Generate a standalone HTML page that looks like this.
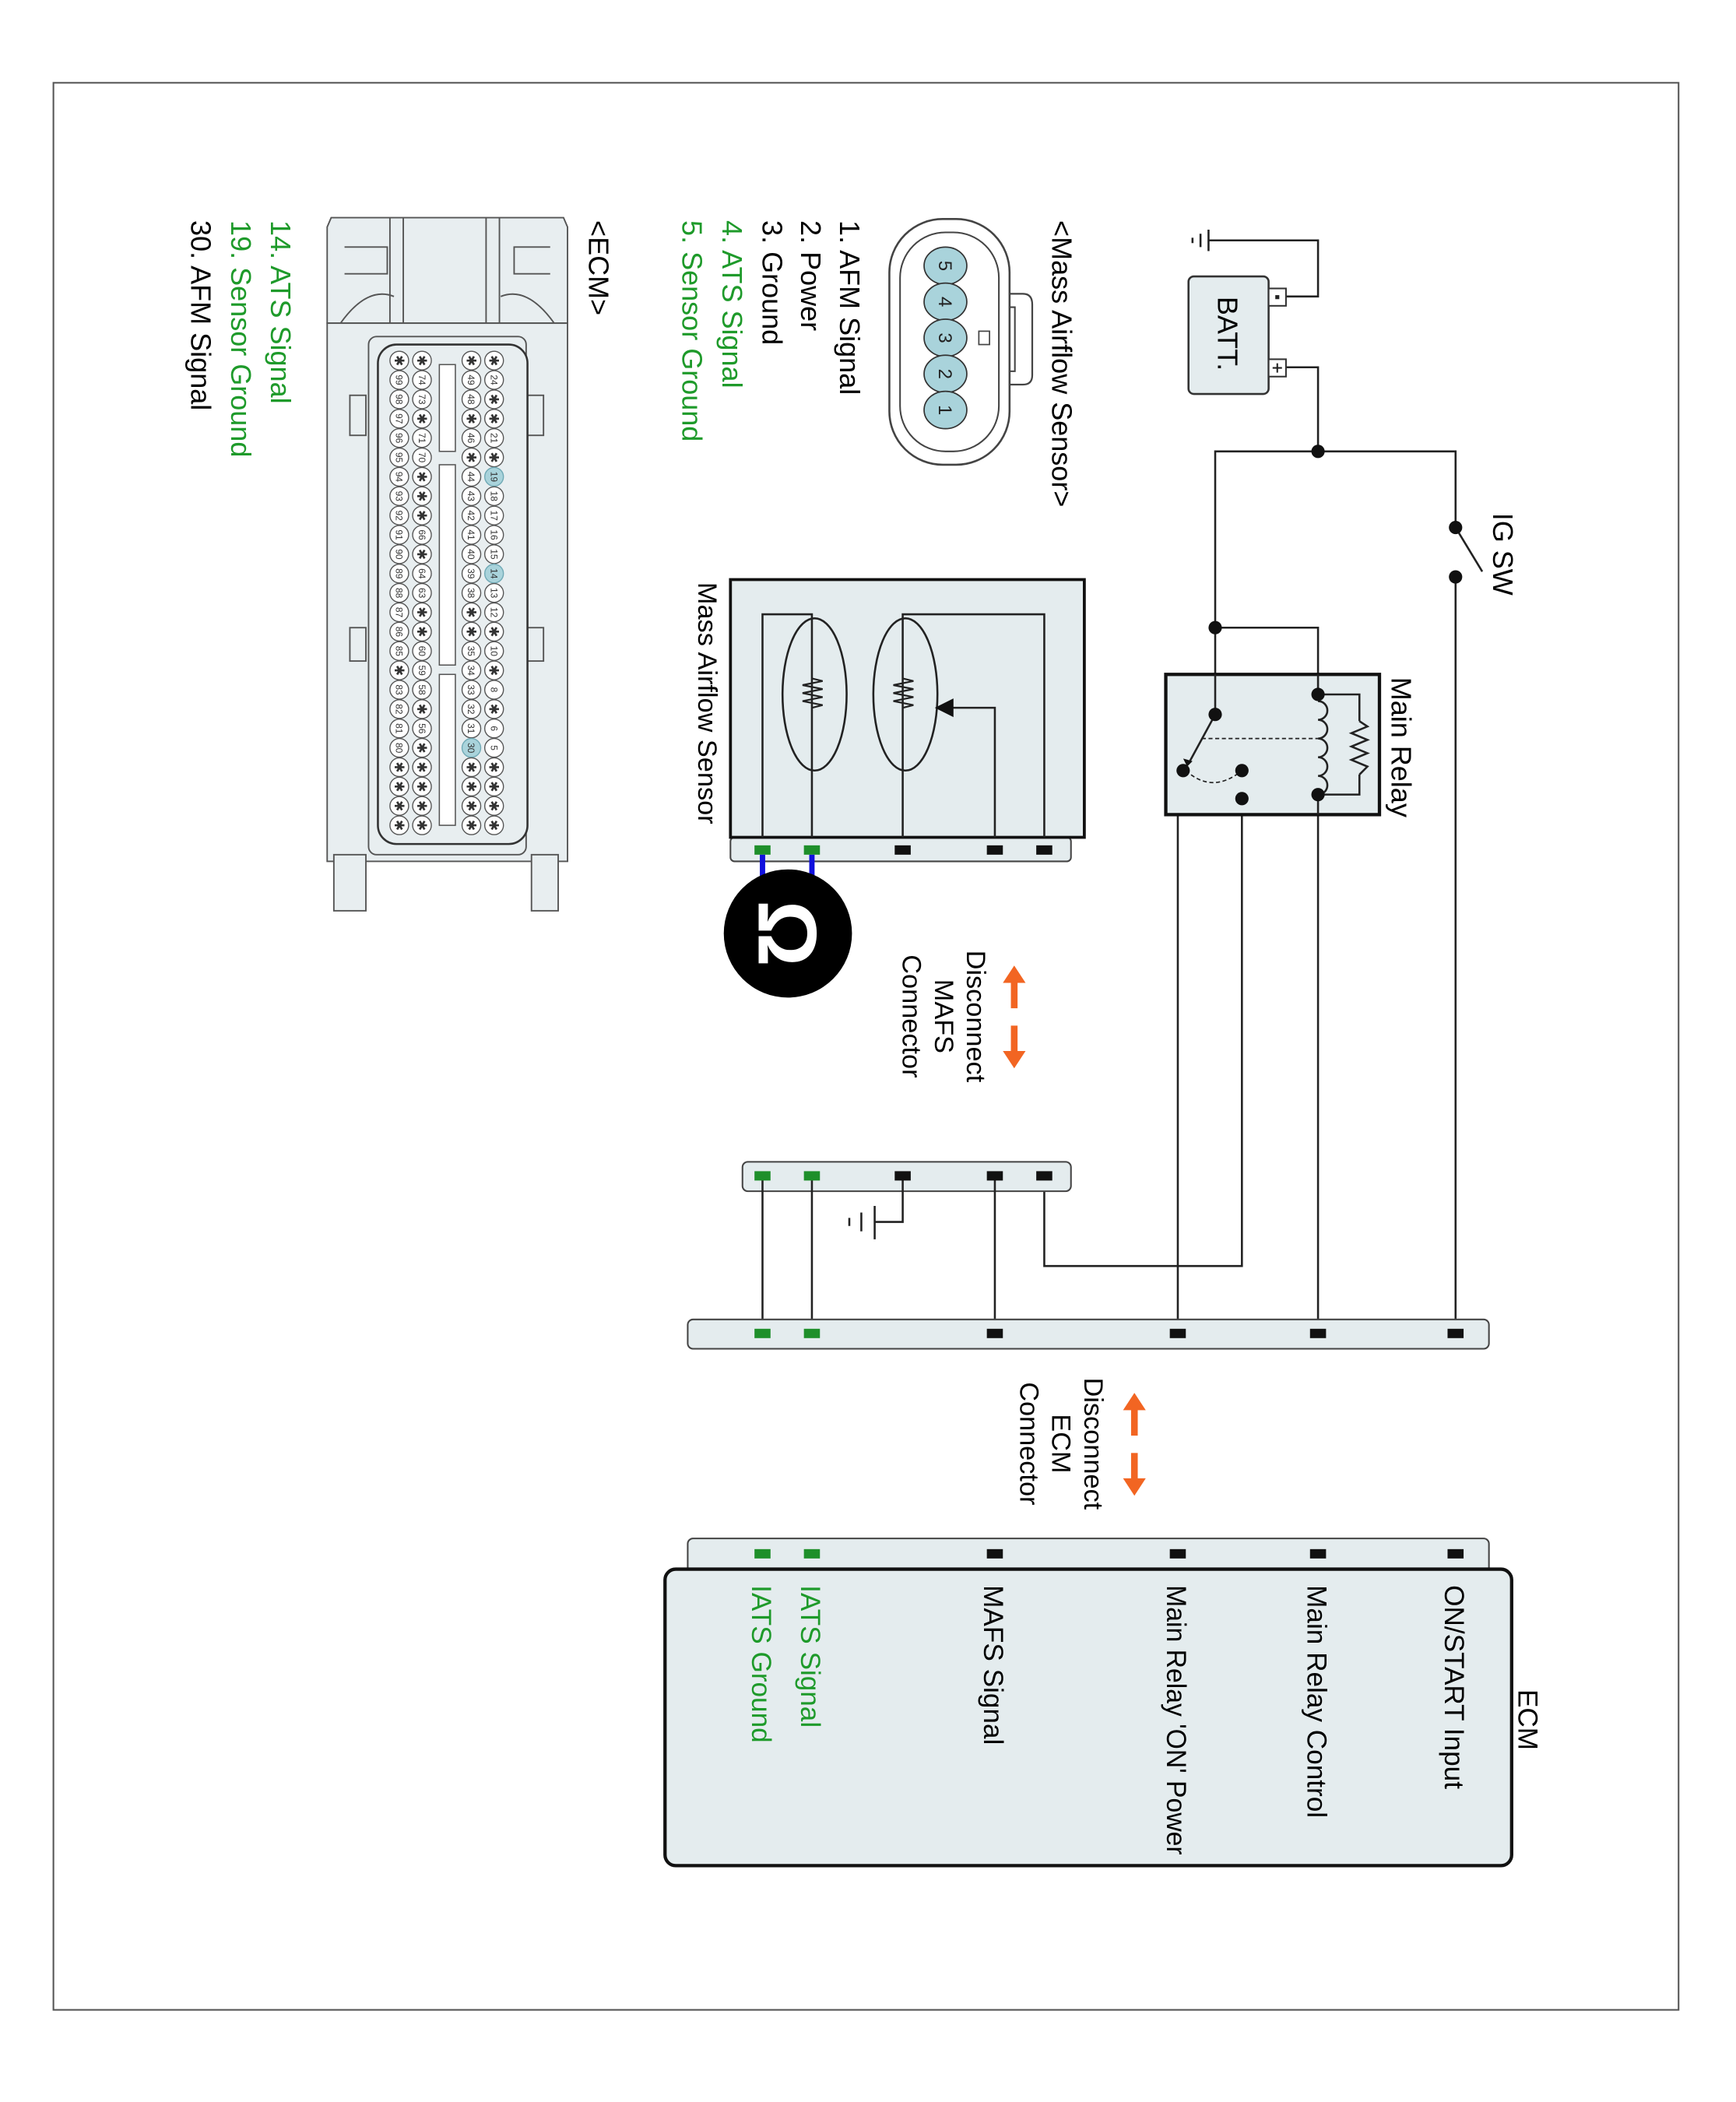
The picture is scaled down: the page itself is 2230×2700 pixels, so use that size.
<!DOCTYPE html>
<html><head><meta charset="utf-8"><style>
html,body{margin:0;padding:0;background:#fff}
svg{display:block}
text{font-family:"Liberation Sans",Arial,sans-serif}
.p circle{fill:#fff;stroke:#555;stroke-width:0.8}
.p text{font-size:7px;text-anchor:middle;fill:#333}
.p text.s{font-family:"DejaVu Sans",sans-serif;font-size:10px}
.p .h{fill:#a9d3db;stroke:#6fa9b5}
</style></head><body>
<svg width="2230" height="2700" viewBox="0 0 1300 1574" preserveAspectRatio="none" xmlns="http://www.w3.org/2000/svg">
<rect x="0" y="0" width="1300" height="1574" fill="#fff"/>
<rect x="40" y="62" width="1217" height="1443" fill="none" stroke="#555" stroke-width="1.2"/>

<g stroke="#222" stroke-width="1.5" fill="none">
<path d="M962,222 H987 V180 H905"/>
<path d="M905,172 V188 M899,175 V185 M893,178 V182"/>
<path d="M962,275 H987 V338 H1090 V395"/>
<path d="M1090,432 V998"/>
<path d="M1090,395 L1110,428" stroke-width="1.5"/>
<path d="M987,338 H910 V535"/>
<path d="M910,470 H987 V998"/>
<path d="M930,577 V948 H782 V881"/>
<path d="M930,598 H882 V998"/>
</g>
<rect x="890" y="207" width="60" height="88" rx="4" fill="#e4ecee" stroke="#333" stroke-width="1.5"/>
<rect x="950" y="216" width="13" height="13" fill="#fff" stroke="#333" stroke-width="1.2"/>
<rect x="950" y="269" width="13" height="13" fill="#fff" stroke="#333" stroke-width="1.2"/>
<path d="M953,275.5 H960 M956.5,272 V279" stroke="#222" stroke-width="1.2"/>
<rect x="955" y="221" width="3" height="3" fill="#222"/>
<text transform="translate(912,222) rotate(90)" font-size="21">BATT.</text>
<text transform="translate(1118,384) rotate(90)" font-size="21">IG SW</text>
<circle cx="1090" cy="395" r="5" fill="#111"/>
<circle cx="1090" cy="432" r="5" fill="#111"/>
<circle cx="987" cy="338" r="5" fill="#111"/>
<circle cx="910" cy="470" r="5" fill="#111"/>

<rect x="873" y="505" width="160" height="105" fill="#e4ecee" stroke="#111" stroke-width="2.5"/>
<g stroke="#222" stroke-width="1.5" fill="none">
<path d="M910,505 V535"/>
<path d="M987,505 V520 M987,595 V610"/>
<path d="M987,520 H1018 V540 M1018,580 V595 H987"/>
<path d="M1018,540 l6,4 l-12,5 l12,5 l-12,5 l12,5 l-12,5 l12,5 l-6,6"/>
<path d="M987,525 a7,7 0 0 1 0,14 a7,7 0 0 1 0,14 a7,7 0 0 1 0,14 a7,7 0 0 1 0,14 a7,7 0 0 1 0,14" />
<path d="M910,535 L891,570"/>
<path d="M900,553 H987" stroke-dasharray="3,2" stroke-width="1"/>
<path d="M888,577 Q908,595 930,577" stroke-dasharray="3,2" stroke-width="1"/>
</g>
<path d="M889,574 l-3,-6 l7,2 z" fill="#111"/>
<circle cx="910" cy="535" r="5" fill="#111"/>
<circle cx="987" cy="520" r="5" fill="#111"/>
<circle cx="987" cy="595" r="5" fill="#111"/>
<circle cx="886" cy="577" r="5" fill="#111"/>
<circle cx="930" cy="577" r="5" fill="#111"/>
<circle cx="930" cy="598" r="5" fill="#111"/>
<text transform="translate(1042,507) rotate(90)" font-size="21">Main Relay</text>

<rect x="547" y="627" width="255" height="18" rx="3" fill="#e4ecee" stroke="#444" stroke-width="1.2"/>
<rect x="547" y="434" width="265" height="193" fill="#e4ecee" stroke="#111" stroke-width="2.2"/>
<g stroke="#222" stroke-width="1.5" fill="none">
<path d="M571,627 V460 H608 V627"/>
<path d="M676,627 V460 H782 V627"/>
<path d="M745,627 V530 H712"/>
<ellipse cx="610" cy="520" rx="24" ry="57"/>
<ellipse cx="678" cy="520" rx="24" ry="57"/>
<path d="M608,508 l8,2 l-15,3 l15,3 l-15,3 l15,3 l-15,3 l15,3 l-8,2" stroke-width="1.3"/>
<path d="M676,508 l8,2 l-15,3 l15,3 l-15,3 l15,3 l-15,3 l15,3 l-8,2" stroke-width="1.3"/>
</g>
<path d="M700,530 l14,-7 v14 z" fill="#111"/>
<text transform="translate(523,436) rotate(90)" font-size="20">Mass Airflow Sensor</text>
<g>
<rect x="565" y="633" width="12" height="7" fill="#1e8f2a"/>
<rect x="602" y="633" width="12" height="7" fill="#1e8f2a"/>
<rect x="670" y="633" width="12" height="7" fill="#111"/>
<rect x="739" y="633" width="12" height="7" fill="#111"/>
<rect x="776" y="633" width="12" height="7" fill="#111"/>
</g>
<path d="M571,640 V668 M608,640 V668" stroke="#1010dd" stroke-width="4"/>
<circle cx="590" cy="699" r="48" fill="#000"/>
<text transform="translate(568,699) rotate(90)" font-size="62" font-weight="bold" text-anchor="middle" fill="#fff">Ω</text>

<g fill="#f26522" stroke="none">
<rect x="757" y="733" width="5" height="22"/><path d="M751,736 l8.5,-13 l8.5,13 z"/>
<rect x="757" y="768" width="5" height="22"/><path d="M751,787 l8.5,13 l8.5,-13 z"/>
</g>
<g font-size="20" text-anchor="middle">
<text transform="translate(724,761) rotate(90)">Disconnect</text>
<text transform="translate(700,761) rotate(90)">MAFS</text>
<text transform="translate(676,761) rotate(90)">Connector</text>
</g>

<rect x="556" y="870" width="246" height="22" rx="4" fill="#e4ecee" stroke="#444" stroke-width="1.2"/>
<g stroke="#222" stroke-width="1.5" fill="none">
<path d="M571,881 V998 M608,881 V998 M745,881 V998"/>
<path d="M676,881 V915 H655 M655,903 V928 M645,908 V922 M636,912 V918"/>
</g>
<g>
<rect x="565" y="877" width="12" height="7" fill="#1e8f2a"/>
<rect x="602" y="877" width="12" height="7" fill="#1e8f2a"/>
<rect x="670" y="877" width="12" height="7" fill="#111"/>
<rect x="739" y="877" width="12" height="7" fill="#111"/>
<rect x="776" y="877" width="12" height="7" fill="#111"/>
</g>

<rect x="515" y="988" width="600" height="22" rx="4" fill="#e4ecee" stroke="#444" stroke-width="1.2"/>
<g>
<rect x="565" y="995" width="12" height="7" fill="#1e8f2a"/>
<rect x="602" y="995" width="12" height="7" fill="#1e8f2a"/>
<rect x="739" y="995" width="12" height="7" fill="#111"/>
<rect x="876" y="995" width="12" height="7" fill="#111"/>
<rect x="981" y="995" width="12" height="7" fill="#111"/>
<rect x="1084" y="995" width="12" height="7" fill="#111"/>
</g>

<g fill="#f26522">
<rect x="847" y="1053" width="5" height="22"/><path d="M841,1056 l8.5,-13 l8.5,13 z"/>
<rect x="847" y="1088" width="5" height="22"/><path d="M841,1107 l8.5,13 l8.5,-13 z"/>
</g>
<g font-size="20" text-anchor="middle">
<text transform="translate(812,1081) rotate(90)">Disconnect</text>
<text transform="translate(788,1081) rotate(90)">ECM</text>
<text transform="translate(764,1081) rotate(90)">Connector</text>
</g>

<rect x="515" y="1152" width="600" height="30" rx="4" fill="#e4ecee" stroke="#444" stroke-width="1.2"/>
<rect x="498" y="1175" width="634" height="222" rx="8" fill="#e4ecee" stroke="#111" stroke-width="2.5"/>
<g>
<rect x="565" y="1160" width="12" height="7" fill="#1e8f2a"/>
<rect x="602" y="1160" width="12" height="7" fill="#1e8f2a"/>
<rect x="739" y="1160" width="12" height="7" fill="#111"/>
<rect x="876" y="1160" width="12" height="7" fill="#111"/>
<rect x="981" y="1160" width="12" height="7" fill="#111"/>
<rect x="1084" y="1160" width="12" height="7" fill="#111"/>
</g>
<g font-size="20.5">
<text transform="translate(1137,1265) rotate(90)">ECM</text>
<text transform="translate(1082,1187) rotate(90)">ON/START Input</text>
<text transform="translate(979,1187) rotate(90)">Main Relay Control</text>
<text transform="translate(874,1187) rotate(90)" textLength="202" lengthAdjust="spacingAndGlyphs">Main Relay 'ON' Power</text>
<text transform="translate(737,1187) rotate(90)">MAFS Signal</text>
<text transform="translate(600,1187) rotate(90)" fill="#1e9a2a">IATS Signal</text>
<text transform="translate(563,1187) rotate(90)" fill="#1e9a2a">IATS Ground</text>
</g>

<text transform="translate(788,165) rotate(90)" font-size="21">&lt;Mass Airflow Sensor&gt;</text>
<path d="M755,220 H766 Q773,220 773,228 V281 Q773,288 766,288 H755" fill="#fff" stroke="#444" stroke-width="1.3"/>
<path d="M750,230 H760 V278 H750" fill="none" stroke="#444" stroke-width="1.2"/>
<rect x="666" y="164" width="90" height="184" rx="40" fill="#fff" stroke="#444" stroke-width="1.5"/>
<rect x="674" y="174" width="74" height="164" rx="34" fill="none" stroke="#444" stroke-width="1.2"/>
<rect x="733" y="248" width="8" height="10" fill="#fff" stroke="#444" stroke-width="1"/>
<g fill="#a9d3db" stroke="#333" stroke-width="1">
<ellipse cx="708" cy="199" rx="16" ry="14"/>
<ellipse cx="708" cy="226" rx="16" ry="14"/>
<ellipse cx="708" cy="253" rx="16" ry="14"/>
<ellipse cx="708" cy="280" rx="16" ry="14"/>
<ellipse cx="708" cy="307" rx="16" ry="14"/>
</g>
<g font-size="14" text-anchor="middle" fill="#222">
<text transform="translate(703,199) rotate(90)">5</text>
<text transform="translate(703,226) rotate(90)">4</text>
<text transform="translate(703,253) rotate(90)">3</text>
<text transform="translate(703,280) rotate(90)">2</text>
<text transform="translate(703,307) rotate(90)">1</text>
</g>
<g font-size="21">
<text transform="translate(629,165) rotate(90)">1. AFM Signal</text>
<text transform="translate(600,165) rotate(90)">2. Power</text>
<text transform="translate(571,165) rotate(90)">3. Ground</text>
<text transform="translate(541,165) rotate(90)" fill="#1e9a2a">4. ATS Signal</text>
<text transform="translate(511,165) rotate(90)" fill="#1e9a2a">5. Sensor Ground</text>
<text transform="translate(441,165) rotate(90)">&lt;ECM&gt;</text>
<text transform="translate(203,165) rotate(90)" fill="#1e9a2a">14. ATS Signal</text>
<text transform="translate(173,165) rotate(90)" fill="#1e9a2a">19. Sensor Ground</text>
<text transform="translate(143,165) rotate(90)">30. AFM Signal</text>
</g>

<g fill="#e8eef0" stroke="#555" stroke-width="1.1">
<path d="M248,163 H422 L425,170 V242 H245 V170 Z"/>
<rect x="245" y="242" width="180" height="403"/>
<rect x="250" y="640" width="24" height="42"/>
<rect x="398" y="640" width="20" height="42"/>
<rect x="262" y="296" width="12" height="30"/><rect x="395" y="296" width="12" height="30"/>
<rect x="262" y="470" width="12" height="25"/><rect x="395" y="470" width="12" height="25"/>
<rect x="276" y="252" width="118" height="388" rx="6"/>
<rect x="283" y="258" width="112" height="374" rx="14" fill="#e8eef0" stroke="#333" stroke-width="1.5"/>
<path d="M292,163 V242 M302,163 V242 M364,163 V242 M374,163 V242"/>
<path d="M258,185 H290 V205 H258 M412,185 H385 V205 H412" fill="none"/>
<path d="M255,242 q20,-28 40,-20 M415,242 q-20,-28 -40,-20" fill="none"/>
</g>
<g fill="#fff" stroke="#555" stroke-width="0.9">
<rect x="329" y="273" width="12" height="65"/>
<rect x="329" y="348" width="12" height="150"/>
<rect x="329" y="505" width="12" height="113"/>
</g>
<g class="p" transform="translate(370,0)">
<g transform="translate(0,270)"><circle r="7"/><text class="s" transform="rotate(90)" y="3.5">✱</text></g>
<g transform="translate(0,284.5)"><circle r="7"/><text transform="rotate(90)" y="2.5">24</text></g>
<g transform="translate(0,299)"><circle r="7"/><text class="s" transform="rotate(90)" y="3.5">✱</text></g>
<g transform="translate(0,313.5)"><circle r="7"/><text class="s" transform="rotate(90)" y="3.5">✱</text></g>
<g transform="translate(0,328)"><circle r="7"/><text transform="rotate(90)" y="2.5">21</text></g>
<g transform="translate(0,342.5)"><circle r="7"/><text class="s" transform="rotate(90)" y="3.5">✱</text></g>
<g transform="translate(0,357)"><circle r="7" class="h"/><text transform="rotate(90)" y="2.5">19</text></g>
<g transform="translate(0,371.5)"><circle r="7"/><text transform="rotate(90)" y="2.5">18</text></g>
<g transform="translate(0,386)"><circle r="7"/><text transform="rotate(90)" y="2.5">17</text></g>
<g transform="translate(0,400.5)"><circle r="7"/><text transform="rotate(90)" y="2.5">16</text></g>
<g transform="translate(0,415)"><circle r="7"/><text transform="rotate(90)" y="2.5">15</text></g>
<g transform="translate(0,429.5)"><circle r="7" class="h"/><text transform="rotate(90)" y="2.5">14</text></g>
<g transform="translate(0,444)"><circle r="7"/><text transform="rotate(90)" y="2.5">13</text></g>
<g transform="translate(0,458.5)"><circle r="7"/><text transform="rotate(90)" y="2.5">12</text></g>
<g transform="translate(0,473)"><circle r="7"/><text class="s" transform="rotate(90)" y="3.5">✱</text></g>
<g transform="translate(0,487.5)"><circle r="7"/><text transform="rotate(90)" y="2.5">10</text></g>
<g transform="translate(0,502)"><circle r="7"/><text class="s" transform="rotate(90)" y="3.5">✱</text></g>
<g transform="translate(0,516.5)"><circle r="7"/><text transform="rotate(90)" y="2.5">8</text></g>
<g transform="translate(0,531)"><circle r="7"/><text class="s" transform="rotate(90)" y="3.5">✱</text></g>
<g transform="translate(0,545.5)"><circle r="7"/><text transform="rotate(90)" y="2.5">6</text></g>
<g transform="translate(0,560)"><circle r="7"/><text transform="rotate(90)" y="2.5">5</text></g>
<g transform="translate(0,574.5)"><circle r="7"/><text class="s" transform="rotate(90)" y="3.5">✱</text></g>
<g transform="translate(0,589)"><circle r="7"/><text class="s" transform="rotate(90)" y="3.5">✱</text></g>
<g transform="translate(0,603.5)"><circle r="7"/><text class="s" transform="rotate(90)" y="3.5">✱</text></g>
<g transform="translate(0,618)"><circle r="7"/><text class="s" transform="rotate(90)" y="3.5">✱</text></g>
</g>
<g class="p" transform="translate(353,0)">
<g transform="translate(0,270)"><circle r="7"/><text class="s" transform="rotate(90)" y="3.5">✱</text></g>
<g transform="translate(0,284.5)"><circle r="7"/><text transform="rotate(90)" y="2.5">49</text></g>
<g transform="translate(0,299)"><circle r="7"/><text transform="rotate(90)" y="2.5">48</text></g>
<g transform="translate(0,313.5)"><circle r="7"/><text class="s" transform="rotate(90)" y="3.5">✱</text></g>
<g transform="translate(0,328)"><circle r="7"/><text transform="rotate(90)" y="2.5">46</text></g>
<g transform="translate(0,342.5)"><circle r="7"/><text class="s" transform="rotate(90)" y="3.5">✱</text></g>
<g transform="translate(0,357)"><circle r="7"/><text transform="rotate(90)" y="2.5">44</text></g>
<g transform="translate(0,371.5)"><circle r="7"/><text transform="rotate(90)" y="2.5">43</text></g>
<g transform="translate(0,386)"><circle r="7"/><text transform="rotate(90)" y="2.5">42</text></g>
<g transform="translate(0,400.5)"><circle r="7"/><text transform="rotate(90)" y="2.5">41</text></g>
<g transform="translate(0,415)"><circle r="7"/><text transform="rotate(90)" y="2.5">40</text></g>
<g transform="translate(0,429.5)"><circle r="7"/><text transform="rotate(90)" y="2.5">39</text></g>
<g transform="translate(0,444)"><circle r="7"/><text transform="rotate(90)" y="2.5">38</text></g>
<g transform="translate(0,458.5)"><circle r="7"/><text class="s" transform="rotate(90)" y="3.5">✱</text></g>
<g transform="translate(0,473)"><circle r="7"/><text class="s" transform="rotate(90)" y="3.5">✱</text></g>
<g transform="translate(0,487.5)"><circle r="7"/><text transform="rotate(90)" y="2.5">35</text></g>
<g transform="translate(0,502)"><circle r="7"/><text transform="rotate(90)" y="2.5">34</text></g>
<g transform="translate(0,516.5)"><circle r="7"/><text transform="rotate(90)" y="2.5">33</text></g>
<g transform="translate(0,531)"><circle r="7"/><text transform="rotate(90)" y="2.5">32</text></g>
<g transform="translate(0,545.5)"><circle r="7"/><text transform="rotate(90)" y="2.5">31</text></g>
<g transform="translate(0,560)"><circle r="7" class="h"/><text transform="rotate(90)" y="2.5">30</text></g>
<g transform="translate(0,574.5)"><circle r="7"/><text class="s" transform="rotate(90)" y="3.5">✱</text></g>
<g transform="translate(0,589)"><circle r="7"/><text class="s" transform="rotate(90)" y="3.5">✱</text></g>
<g transform="translate(0,603.5)"><circle r="7"/><text class="s" transform="rotate(90)" y="3.5">✱</text></g>
<g transform="translate(0,618)"><circle r="7"/><text class="s" transform="rotate(90)" y="3.5">✱</text></g>
</g>
<g class="p" transform="translate(316,0)">
<g transform="translate(0,270)"><circle r="7"/><text class="s" transform="rotate(90)" y="3.5">✱</text></g>
<g transform="translate(0,284.5)"><circle r="7"/><text transform="rotate(90)" y="2.5">74</text></g>
<g transform="translate(0,299)"><circle r="7"/><text transform="rotate(90)" y="2.5">73</text></g>
<g transform="translate(0,313.5)"><circle r="7"/><text class="s" transform="rotate(90)" y="3.5">✱</text></g>
<g transform="translate(0,328)"><circle r="7"/><text transform="rotate(90)" y="2.5">71</text></g>
<g transform="translate(0,342.5)"><circle r="7"/><text transform="rotate(90)" y="2.5">70</text></g>
<g transform="translate(0,357)"><circle r="7"/><text class="s" transform="rotate(90)" y="3.5">✱</text></g>
<g transform="translate(0,371.5)"><circle r="7"/><text class="s" transform="rotate(90)" y="3.5">✱</text></g>
<g transform="translate(0,386)"><circle r="7"/><text class="s" transform="rotate(90)" y="3.5">✱</text></g>
<g transform="translate(0,400.5)"><circle r="7"/><text transform="rotate(90)" y="2.5">66</text></g>
<g transform="translate(0,415)"><circle r="7"/><text class="s" transform="rotate(90)" y="3.5">✱</text></g>
<g transform="translate(0,429.5)"><circle r="7"/><text transform="rotate(90)" y="2.5">64</text></g>
<g transform="translate(0,444)"><circle r="7"/><text transform="rotate(90)" y="2.5">63</text></g>
<g transform="translate(0,458.5)"><circle r="7"/><text class="s" transform="rotate(90)" y="3.5">✱</text></g>
<g transform="translate(0,473)"><circle r="7"/><text class="s" transform="rotate(90)" y="3.5">✱</text></g>
<g transform="translate(0,487.5)"><circle r="7"/><text transform="rotate(90)" y="2.5">60</text></g>
<g transform="translate(0,502)"><circle r="7"/><text transform="rotate(90)" y="2.5">59</text></g>
<g transform="translate(0,516.5)"><circle r="7"/><text transform="rotate(90)" y="2.5">58</text></g>
<g transform="translate(0,531)"><circle r="7"/><text class="s" transform="rotate(90)" y="3.5">✱</text></g>
<g transform="translate(0,545.5)"><circle r="7"/><text transform="rotate(90)" y="2.5">56</text></g>
<g transform="translate(0,560)"><circle r="7"/><text class="s" transform="rotate(90)" y="3.5">✱</text></g>
<g transform="translate(0,574.5)"><circle r="7"/><text class="s" transform="rotate(90)" y="3.5">✱</text></g>
<g transform="translate(0,589)"><circle r="7"/><text class="s" transform="rotate(90)" y="3.5">✱</text></g>
<g transform="translate(0,603.5)"><circle r="7"/><text class="s" transform="rotate(90)" y="3.5">✱</text></g>
<g transform="translate(0,618)"><circle r="7"/><text class="s" transform="rotate(90)" y="3.5">✱</text></g>
</g>
<g class="p" transform="translate(299,0)">
<g transform="translate(0,270)"><circle r="7"/><text class="s" transform="rotate(90)" y="3.5">✱</text></g>
<g transform="translate(0,284.5)"><circle r="7"/><text transform="rotate(90)" y="2.5">99</text></g>
<g transform="translate(0,299)"><circle r="7"/><text transform="rotate(90)" y="2.5">98</text></g>
<g transform="translate(0,313.5)"><circle r="7"/><text transform="rotate(90)" y="2.5">97</text></g>
<g transform="translate(0,328)"><circle r="7"/><text transform="rotate(90)" y="2.5">96</text></g>
<g transform="translate(0,342.5)"><circle r="7"/><text transform="rotate(90)" y="2.5">95</text></g>
<g transform="translate(0,357)"><circle r="7"/><text transform="rotate(90)" y="2.5">94</text></g>
<g transform="translate(0,371.5)"><circle r="7"/><text transform="rotate(90)" y="2.5">93</text></g>
<g transform="translate(0,386)"><circle r="7"/><text transform="rotate(90)" y="2.5">92</text></g>
<g transform="translate(0,400.5)"><circle r="7"/><text transform="rotate(90)" y="2.5">91</text></g>
<g transform="translate(0,415)"><circle r="7"/><text transform="rotate(90)" y="2.5">90</text></g>
<g transform="translate(0,429.5)"><circle r="7"/><text transform="rotate(90)" y="2.5">89</text></g>
<g transform="translate(0,444)"><circle r="7"/><text transform="rotate(90)" y="2.5">88</text></g>
<g transform="translate(0,458.5)"><circle r="7"/><text transform="rotate(90)" y="2.5">87</text></g>
<g transform="translate(0,473)"><circle r="7"/><text transform="rotate(90)" y="2.5">86</text></g>
<g transform="translate(0,487.5)"><circle r="7"/><text transform="rotate(90)" y="2.5">85</text></g>
<g transform="translate(0,502)"><circle r="7"/><text class="s" transform="rotate(90)" y="3.5">✱</text></g>
<g transform="translate(0,516.5)"><circle r="7"/><text transform="rotate(90)" y="2.5">83</text></g>
<g transform="translate(0,531)"><circle r="7"/><text transform="rotate(90)" y="2.5">82</text></g>
<g transform="translate(0,545.5)"><circle r="7"/><text transform="rotate(90)" y="2.5">81</text></g>
<g transform="translate(0,560)"><circle r="7"/><text transform="rotate(90)" y="2.5">80</text></g>
<g transform="translate(0,574.5)"><circle r="7"/><text class="s" transform="rotate(90)" y="3.5">✱</text></g>
<g transform="translate(0,589)"><circle r="7"/><text class="s" transform="rotate(90)" y="3.5">✱</text></g>
<g transform="translate(0,603.5)"><circle r="7"/><text class="s" transform="rotate(90)" y="3.5">✱</text></g>
<g transform="translate(0,618)"><circle r="7"/><text class="s" transform="rotate(90)" y="3.5">✱</text></g>
</g>
</svg>
</body></html>
